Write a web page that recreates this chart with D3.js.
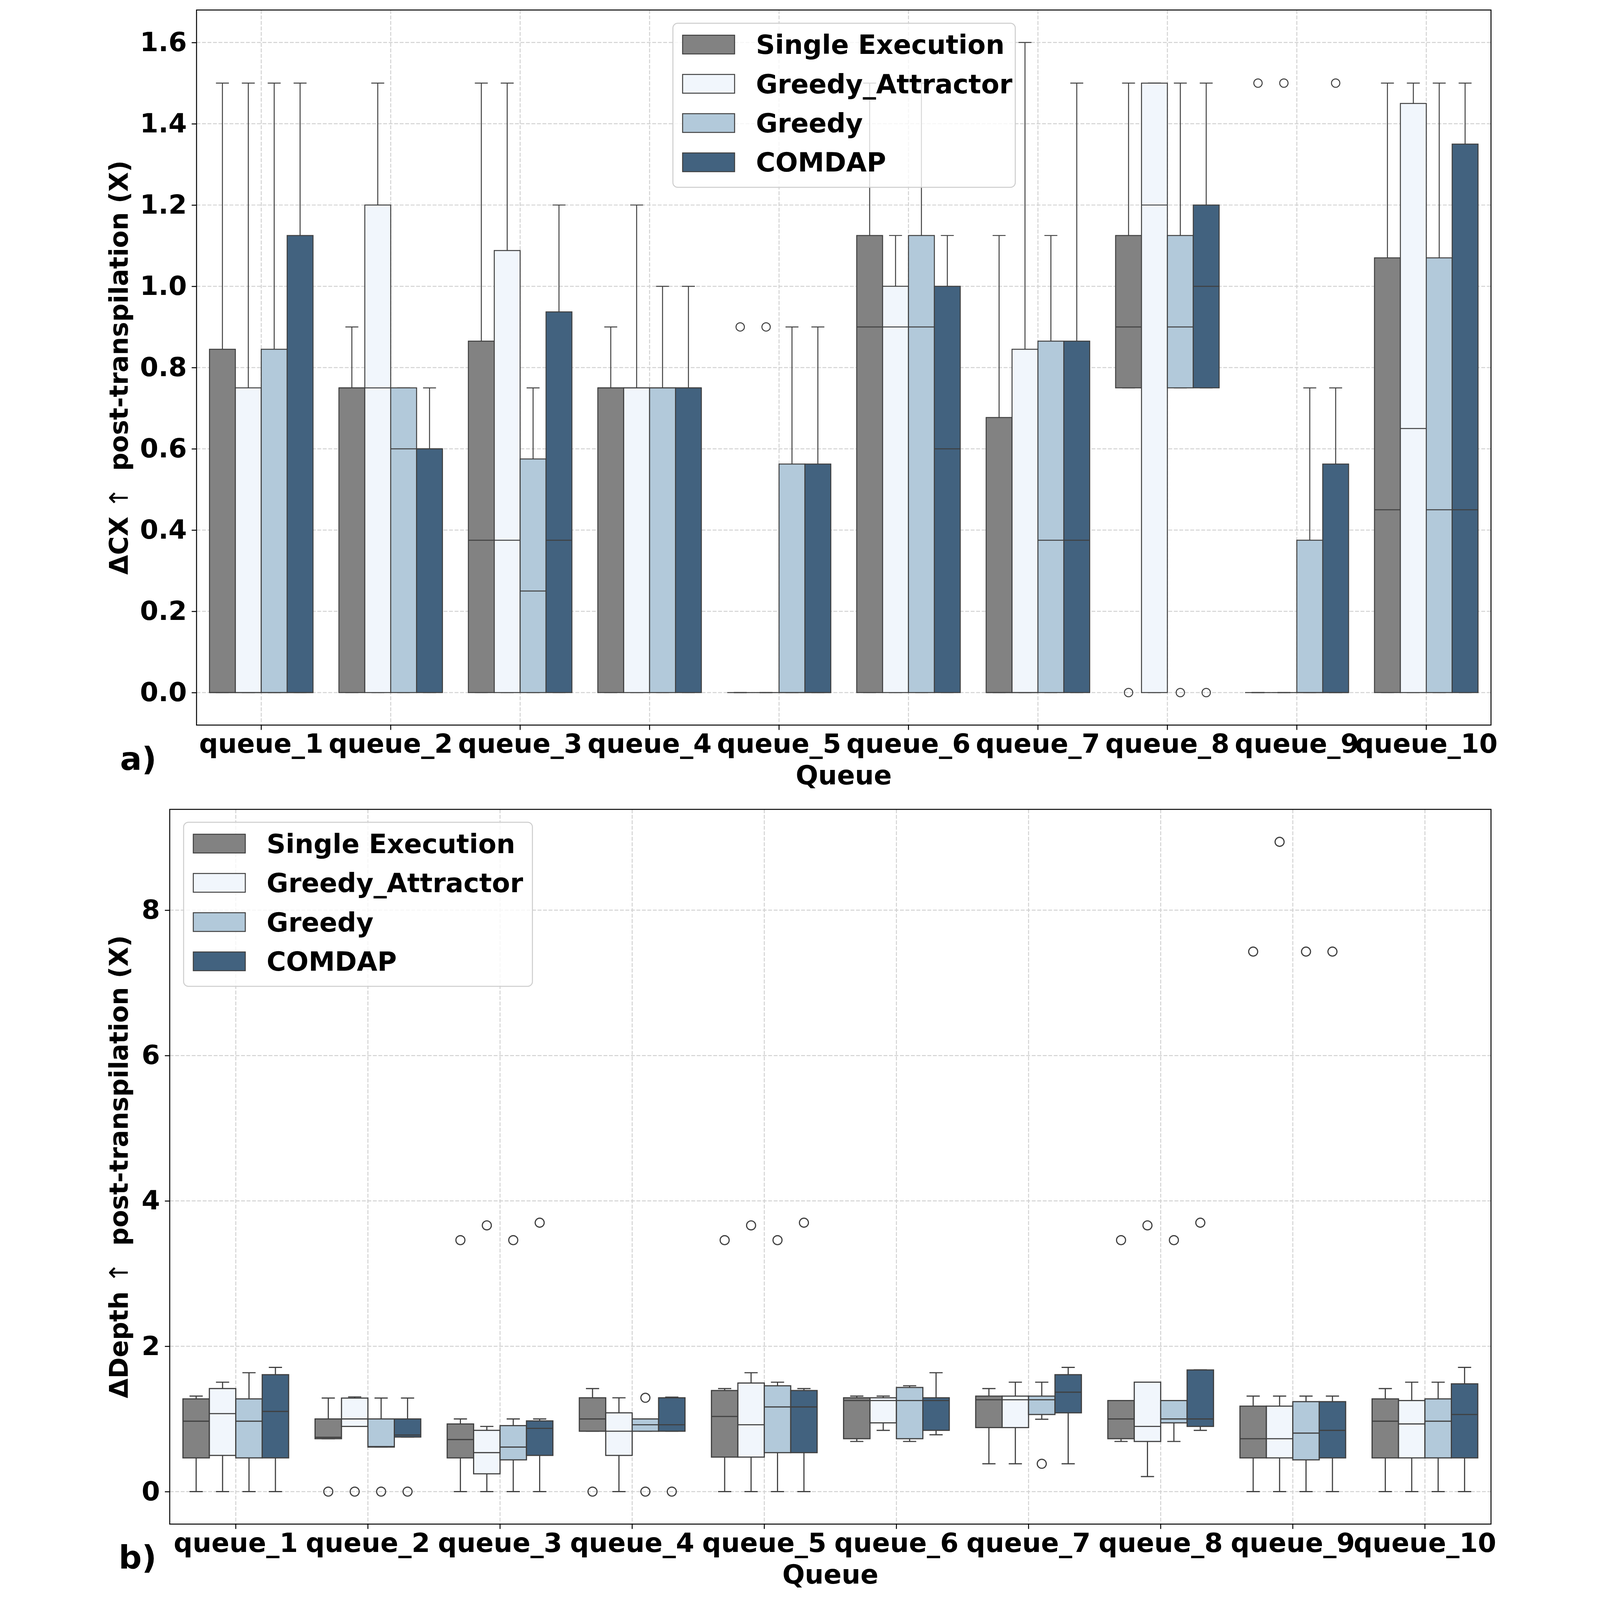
<!DOCTYPE html>
<html>
<head>
<meta charset="utf-8">
<script src="https://cdnjs.cloudflare.com/ajax/libs/d3/7.8.5/d3.min.js"></script>
<style>
html, body { margin: 0; padding: 0; background: #fff; overflow: hidden; }
svg { display: block; width: 100vw; height: 100vh; }
text { font-family: "DejaVu Sans", sans-serif; font-weight: bold; white-space: pre; }
</style>
</head>
<body>
<div id="chart"></div>
<script>
var W = 4363, H = 4954;

var queues = ["queue_1","queue_2","queue_3","queue_4","queue_5","queue_6","queue_7","queue_8","queue_9","queue_10"];
var methods = ["Single Execution","Greedy_Attractor","Greedy","COMDAP"];
var colors = ["#828282","#f1f6fc","#b2c9da","#42627f"];

// panel a) delta CX, one row per queue: [whisker low, q1, median, q3, whisker high]
var cxSingle = [[0,0,0,0.845,1.5],[0,0,0.75,0.75,0.9],[0,0,0.375,0.865,1.5],[0,0,0.75,0.75,0.9],[0,0,0,0,0],
                [0,0,0.9,1.125,1.5],[0,0,0,0.677,1.125],[0.75,0.75,0.9,1.125,1.5],[0,0,0,0,0],[0,0,0.45,1.07,1.5]];
var cxGreedyAttr = [[0,0,0,0.75,1.5],[0,0,0.75,1.2,1.5],[0,0,0.375,1.088,1.5],[0,0,0.75,0.75,1.2],[0,0,0,0,0],
                    [0,0,0.9,1.0,1.125],[0,0,0,0.845,1.6],[0,0,1.2,1.5,1.5],[0,0,0,0,0],[0,0,0.65,1.45,1.5]];
var cxGreedy = [[0,0,0,0.845,1.5],[0,0,0.6,0.75,0.75],[0,0,0.25,0.575,0.75],[0,0,0.75,0.75,1.0],[0,0,0,0.5625,0.9],
                [0,0,0.9,1.125,1.5],[0,0,0.375,0.865,1.125],[0.75,0.75,0.9,1.125,1.5],[0,0,0,0.375,0.75],[0,0,0.45,1.07,1.5]];
var cxComdap = [[0,0,0,1.125,1.5],[0,0,0.6,0.6,0.75],[0,0,0.375,0.937,1.2],[0,0,0.75,0.75,1.0],[0,0,0,0.5625,0.9],
                [0,0,0.6,1.0,1.125],[0,0,0.375,0.865,1.5],[0.75,0.75,1.0,1.2,1.5],[0,0,0,0.5625,0.75],[0,0,0.45,1.35,1.5]];
// [queue index, method index, value]
var cxOutliers = [[4,0,0.9],[4,1,0.9],[7,0,0],[7,2,0],[7,3,0],[8,0,1.5],[8,1,1.5],[8,3,1.5]];
var cxTicks = [0,0.2,0.4,0.6,0.8,1.0,1.2,1.4,1.6];

// panel b) delta depth
var depthSingle = [[0,0.464,0.969,1.276,1.314],[0.728,0.728,0.747,1.0,1.287],[0,0.464,0.716,0.931,1.0],[0.831,0.831,1.0,1.291,1.418],
                   [0,0.475,1.034,1.391,1.418],[0.69,0.728,1.253,1.291,1.314],[0.383,0.881,1.264,1.314,1.418],[0.69,0.728,1.0,1.253,1.253],
                   [0,0.464,0.728,1.176,1.314],[0,0.464,0.969,1.276,1.418]];
var depthGreedyAttr = [[0,0.498,1.073,1.418,1.506],[0.897,0.897,1.0,1.287,1.303],[0,0.245,0.536,0.843,0.897],[0,0.498,0.831,1.084,1.291],
                       [0,0.475,0.92,1.494,1.636],[0.843,0.946,1.253,1.291,1.314],[0.383,0.881,1.264,1.314,1.506],[0.207,0.69,0.897,1.506,1.506],
                       [0,0.464,0.728,1.176,1.314],[0,0.464,0.931,1.253,1.506]];
var depthGreedy = [[0,0.464,0.969,1.276,1.636],[0.613,0.613,0.62,1.0,1.287],[0,0.437,0.613,0.908,1.0],[0.831,0.831,0.92,1.0,1.0],
                   [0,0.536,1.165,1.456,1.506],[0.69,0.728,1.253,1.433,1.456],[0.996,1.061,1.264,1.314,1.506],[0.69,0.946,1.0,1.253,1.253],
                   [0,0.437,0.805,1.238,1.314],[0,0.464,0.969,1.276,1.506]];
var depthComdap = [[0,0.464,1.103,1.609,1.709],[0.751,0.751,0.778,1.0,1.287],[0,0.498,0.87,0.973,1.0],[0.831,0.831,0.92,1.291,1.3],
                   [0,0.536,1.165,1.391,1.418],[0.782,0.843,1.253,1.291,1.636],[0.383,1.084,1.368,1.609,1.709],[0.843,0.897,1.0,1.674,1.674],
                   [0,0.464,0.843,1.238,1.314],[0,0.464,1.061,1.483,1.709]];
var depthOutliers = [[1,0,0],[1,1,0],[1,2,0],[1,3,0],
                     [2,0,3.46],[2,1,3.663],[2,2,3.46],[2,3,3.7],
                     [3,0,0],[3,2,1.291],[3,2,0],[3,3,0],
                     [4,0,3.46],[4,1,3.663],[4,2,3.46],[4,3,3.7],
                     [6,2,0.383],
                     [7,0,3.46],[7,1,3.663],[7,2,3.46],[7,3,3.7],
                     [8,0,7.43],[8,1,8.94],[8,2,7.43],[8,3,7.43]];
var depthTicks = [0,2,4,6,8];

// viewBox keeps the whole figure inside the window whatever its css size
var svg = d3.select("#chart").append("svg")
  .attr("viewBox", "0 0 " + W + " " + H)
  .attr("preserveAspectRatio", "xMidYMid meet");
svg.append("rect").attr("width", W).attr("height", H).attr("fill", "#fff");

var edge = "#3f3f3f";
var fs = 82;

function drawPanel(p) {
  var g = svg.append("g");
  var x = d3.scaleBand().domain(queues).range([p.left, p.right]).padding(0);
  var step = x.bandwidth();
  var hue = d3.scaleBand().domain(methods).range([0.1 * step, 0.9 * step]).padding(0);
  var y = d3.scaleLinear().domain(p.domain).range([p.bottom, p.top]);
  var bw = hue.bandwidth();

  // grid
  g.append("g").selectAll("line").data(p.ticks).enter().append("line")
    .attr("x1", p.left).attr("x2", p.right)
    .attr("y1", function(d){ return y(d); }).attr("y2", function(d){ return y(d); })
    .attr("stroke", "#d2d2d2").attr("stroke-width", 3).attr("stroke-dasharray", "12,5");
  g.append("g").selectAll("line").data(queues).enter().append("line")
    .attr("x1", function(d){ return x(d) + step / 2; }).attr("x2", function(d){ return x(d) + step / 2; })
    .attr("y1", p.top).attr("y2", p.bottom)
    .attr("stroke", "#d2d2d2").attr("stroke-width", 3).attr("stroke-dasharray", "12,5");

  // boxes
  p.series.forEach(function(rows, m) {
    var sg = g.append("g");
    var items = rows.map(function(r, i){ return {q: queues[i], lo: r[0], q1: r[1], med: r[2], q3: r[3], hi: r[4]}; });
    var cx = function(d){ return x(d.q) + hue(methods[m]) + bw / 2; };
    var bx = sg.selectAll("g").data(items).enter().append("g");
    bx.append("line").attr("x1", cx).attr("x2", cx)
      .attr("y1", function(d){ return y(d.q3); }).attr("y2", function(d){ return y(d.hi); })
      .attr("stroke", edge).attr("stroke-width", p.lw);
    bx.append("line").attr("x1", cx).attr("x2", cx)
      .attr("y1", function(d){ return y(d.q1); }).attr("y2", function(d){ return y(d.lo); })
      .attr("stroke", edge).attr("stroke-width", p.lw);
    bx.append("line")
      .attr("x1", function(d){ return cx(d) - bw / 4; }).attr("x2", function(d){ return cx(d) + bw / 4; })
      .attr("y1", function(d){ return y(d.hi); }).attr("y2", function(d){ return y(d.hi); })
      .attr("stroke", edge).attr("stroke-width", p.lw);
    bx.append("line")
      .attr("x1", function(d){ return cx(d) - bw / 4; }).attr("x2", function(d){ return cx(d) + bw / 4; })
      .attr("y1", function(d){ return y(d.lo); }).attr("y2", function(d){ return y(d.lo); })
      .attr("stroke", edge).attr("stroke-width", p.lw);
    bx.append("rect")
      .attr("x", function(d){ return x(d.q) + hue(methods[m]); })
      .attr("width", bw)
      .attr("y", function(d){ return y(d.q3); })
      .attr("height", function(d){ return y(d.q1) - y(d.q3); })
      .attr("fill", colors[m]).attr("stroke", edge).attr("stroke-width", p.lw);
    bx.append("line")
      .attr("x1", function(d){ return x(d.q) + hue(methods[m]); })
      .attr("x2", function(d){ return x(d.q) + hue(methods[m]) + bw; })
      .attr("y1", function(d){ return y(d.med); }).attr("y2", function(d){ return y(d.med); })
      .attr("stroke", edge).attr("stroke-width", p.lw);
  });

  // outliers
  g.append("g").selectAll("circle").data(p.outliers).enter().append("circle")
    .attr("cx", function(d){ return x(queues[d[0]]) + hue(methods[d[1]]) + bw / 2; })
    .attr("cy", function(d){ return y(d[2]); })
    .attr("r", p.r).attr("fill", "none").attr("stroke", edge).attr("stroke-width", p.lw);

  // axes
  var ya = g.append("g").attr("transform", "translate(" + p.left + ",0)")
    .call(d3.axisLeft(y).tickValues(p.ticks).tickSize(15).tickPadding(15).tickFormat(p.fmt));
  var xa = g.append("g").attr("transform", "translate(0," + p.bottom + ")")
    .call(d3.axisBottom(x).tickSize(15).tickPadding(13));
  [ya, xa].forEach(function(a){
    a.select(".domain").remove();
    a.selectAll("line").attr("stroke", "#000").attr("stroke-width", 3);
    a.selectAll("text").attr("font-size", fs).attr("font-family", "DejaVu Sans")
      .attr("font-weight", "bold").attr("fill", "#000");
  });

  g.append("rect").attr("x", p.left).attr("y", p.top)
    .attr("width", p.right - p.left).attr("height", p.bottom - p.top)
    .attr("fill", "none").attr("stroke", "#000").attr("stroke-width", 3);

  // axis titles
  g.append("text").attr("x", (p.left + p.right) / 2).attr("y", p.bottom + 184)
    .attr("text-anchor", "middle").attr("font-size", fs).text("Queue");
  var yl = g.append("text")
    .attr("transform", "translate(100," + ((p.top + p.bottom) / 2) + ") rotate(-90)")
    .attr("text-anchor", "middle").attr("font-size", 79);
  yl.append("tspan").text(p.ylab);
  yl.append("tspan").attr("font-weight", "normal").text(" \u2191  ");
  yl.append("tspan").text("post-transpilation (X)");

  g.append("text").attr("x", p.tagX).attr("y", p.tagY)
    .attr("font-family", "Liberation Sans").attr("font-size", 100).text(p.tag);

  // legend
  var lg = g.append("g").attr("transform", "translate(" + p.legX + "," + p.legY + ")");
  lg.append("rect").attr("width", p.legW).attr("height", 508).attr("rx", 15)
    .attr("fill", "#fff").attr("fill-opacity", 0.8)
    .attr("stroke", "#cccccc").attr("stroke-width", 3);
  var it = lg.selectAll("g.it").data(methods).enter().append("g")
    .attr("transform", function(d, i){ return "translate(0," + (66 + i * 121.5) + ")"; });
  it.append("rect").attr("x", 30).attr("y", -29).attr("width", 161).attr("height", 58)
    .attr("fill", function(d, i){ return colors[i]; }).attr("stroke", edge).attr("stroke-width", 3);
  it.append("text").attr("x", 257).attr("y", 29).attr("font-size", fs).text(function(d){ return d; });
}

drawPanel({
  left: 313, right: 4321, top: 31, bottom: 2245,
  domain: [-0.08, 1.68], ticks: cxTicks, fmt: d3.format(".1f"),
  series: [cxSingle, cxGreedyAttr, cxGreedy, cxComdap], outliers: cxOutliers,
  lw: 3, r: 13, ylab: "\u0394CX", tag: "a)", tagX: 76, tagY: 2384,
  legX: 1788, legY: 72, legW: 1060
});

drawPanel({
  left: 230, right: 4321, top: 2506, bottom: 4719,
  domain: [-0.447, 9.387], ticks: depthTicks, fmt: d3.format("d"),
  series: [depthSingle, depthGreedyAttr, depthGreedy, depthComdap], outliers: depthOutliers,
  lw: 3.5, r: 14, ylab: "\u0394Depth", tag: "b)", tagX: 72, tagY: 4856,
  legX: 273, legY: 2546, legW: 1080
});
</script>
</body>
</html>
